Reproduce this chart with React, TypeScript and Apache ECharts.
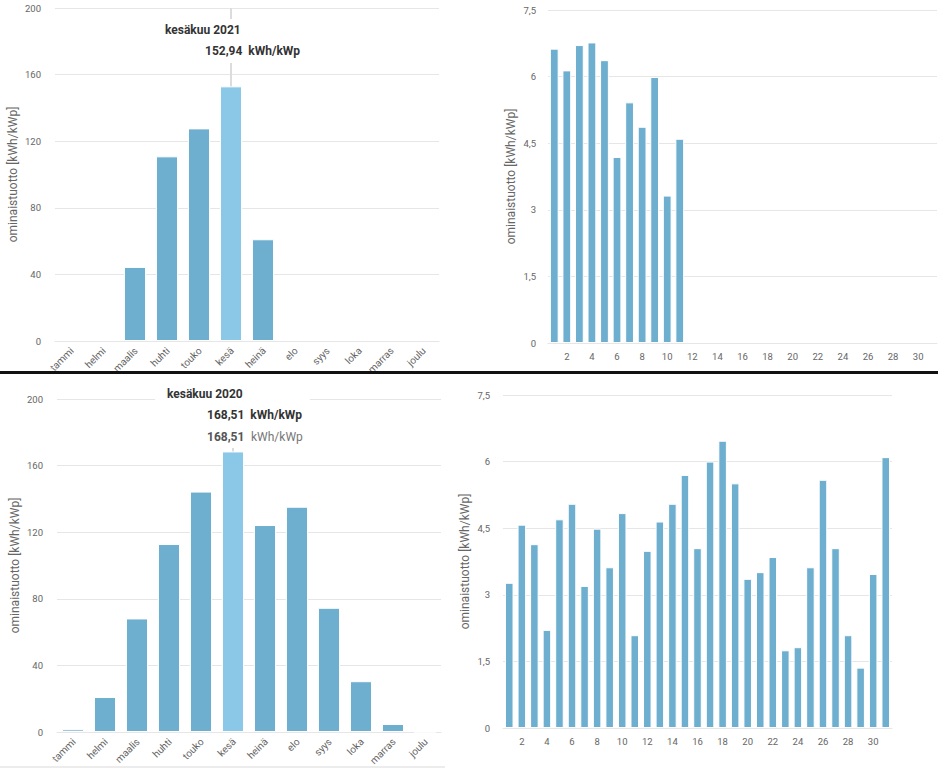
import React, { useEffect, useRef } from 'react';
import * as echarts from 'echarts';

const months = ['tammi', 'helmi', 'maalis', 'huhti', 'touko', 'kesä', 'heinä', 'elo', 'syys', 'loka', 'marras', 'joulu'];
const monthly2021 = [null, null, 44.5, 110.9, 127.7, 152.94, 61.1, null, null, null, null, null];
const monthly2020 = [1.6, 21.0, 68.2, 112.9, 144.4, 168.51, 124.3, 135.3, 74.6, 30.5, 4.8, 0];

const days = ['1', '2', '3', '4', '5', '6', '7', '8', '9', '10', '11', '12', '13', '14', '15', '16', '17', '18', '19', '20', '21', '22', '23', '24', '25', '26', '27', '28', '29', '30', '31'];
const daily2021 = [6.63, 6.14, 6.71, 6.77, 6.37, 4.19, 5.42, 4.87, 5.99, 3.32, 4.6,
  null, null, null, null, null, null, null, null, null, null, null, null, null, null, null, null, null, null, null, null];
const daily2020 = [3.27, 4.58, 4.14, 2.21, 4.7, 5.05, 3.2, 4.49, 3.62, 4.84, 2.09, 3.99, 4.65, 5.05, 5.7, 4.05,
  6.0, 6.47, 5.51, 3.36, 3.51, 3.85, 1.75, 1.82, 3.62, 5.59, 4.05, 2.09, 1.36, 3.47, 6.1];

const monthlyTicks = ['0', '40', '80', '120', '160', '200'];
const dailyTicks = ['0', '1,5', '3', '4,5', '6', '7,5'];

const highlightMonth = 'kesä';
const tooltipTitle2021 = 'kesäkuu 2021';
const tooltipTitle2020 = 'kesäkuu 2020';
const unit = 'kWh/kWp';
const axisTitle = 'ominaistuotto [kWh/kWp]';

const BAR = '#6eaecf';
const BAR_HI = '#8bc7e7';
const GRID = '#e6e6e6';
const LABEL = '#666666';
const FONT = 'Roboto';

const fmt = (v: number) => v.toFixed(2).replace('.', ',');

export default function App() {
  const ref = useRef<HTMLDivElement>(null);

  useEffect(() => {
    document.body.style.margin = '0';
    const chart = echarts.init(ref.current!, null, { renderer: 'svg' });

    const monthAxis = (gridIndex: number) => ({
      type: 'category',
      gridIndex,
      data: months,
      axisLine: { lineStyle: { color: GRID } },
      axisTick: { alignWithLabel: true, interval: 0, length: 7, lineStyle: { color: '#dedede' } },
      axisLabel: { show: false },
    });
    const dayAxis = (gridIndex: number) => ({
      type: 'category',
      gridIndex,
      data: days,
      axisLine: { lineStyle: { color: GRID } },
      axisTick: { alignWithLabel: true, interval: (i: number) => i % 2 === 1, length: 5, lineStyle: { color: '#e2e2e2' } },
      axisLabel: { interval: (i: number) => i % 2 === 1, color: LABEL, fontSize: 9.5, margin: 8, fontFamily: FONT },
    });
    const valueAxis = (gridIndex: number, max: number, interval: number, labels: string[], nameGap: number, margin: number) => ({
      type: 'value',
      gridIndex,
      min: 0,
      max,
      interval,
      name: axisTitle,
      nameLocation: 'middle',
      nameRotate: 90,
      nameGap,
      nameTextStyle: { color: LABEL, fontSize: 12, fontFamily: FONT },
      axisLine: { show: false },
      axisTick: { show: false },
      axisLabel: {
        color: LABEL,
        fontSize: 9.5,
        margin,
        fontFamily: FONT,
        formatter: (v: number) => labels[Math.round(v / interval)],
      },
      splitLine: { lineStyle: { color: GRID, width: 1 } },
    });

    const monthData = (vals: (number | null)[]) =>
      vals.map((v, i) => (months[i] === highlightMonth ? { value: v, itemStyle: { color: BAR_HI } } : v));

    const crosshair = {
      silent: true,
      symbol: 'none',
      z: 1,
      label: { show: false },
      lineStyle: { color: '#dcdcdc', width: 2, type: 'solid' },
      emphasis: { disabled: true },
      data: [{ xAxis: highlightMonth }],
    };

    const barBase = {
      type: 'bar',
      z: 10,
      silent: true,
      itemStyle: { color: BAR, borderColor: '#ffffff', borderWidth: 1 },
    };

    const v2021 = monthly2021[months.indexOf(highlightMonth)] as number;
    const v2020 = monthly2020[months.indexOf(highlightMonth)] as number;

    chart.setOption({
      animation: false,
      textStyle: { fontFamily: FONT },
      tooltip: { show: false },
      grid: [
        { left: 55, top: 8, width: 384, height: 333 },
        { left: 548, top: 10, width: 389, height: 333 },
        { left: 57, top: 399, width: 384, height: 333 },
        { left: 503, top: 395, width: 389, height: 333 },
      ],
      xAxis: [monthAxis(0), dayAxis(1), monthAxis(2), dayAxis(3)],
      yAxis: [
        valueAxis(0, 200, 40, monthlyTicks, 36, 14),
        valueAxis(1, 7.5, 1.5, dailyTicks, 31, 12),
        valueAxis(2, 200, 40, monthlyTicks, 36, 14),
        valueAxis(3, 7.5, 1.5, dailyTicks, 32, 13),
      ],
      series: [
        { ...barBase, xAxisIndex: 0, yAxisIndex: 0, barCategoryGap: '31%', data: monthData(monthly2021), markLine: crosshair },
        { ...barBase, xAxisIndex: 1, yAxisIndex: 1, barCategoryGap: '30%', data: daily2021 },
        { ...barBase, xAxisIndex: 2, yAxisIndex: 2, barCategoryGap: '31%', data: monthData(monthly2020), markLine: crosshair },
        { ...barBase, xAxisIndex: 3, yAxisIndex: 3, barCategoryGap: '32%', data: daily2020 },
      ],
    });

    // rotated month labels, placed at the category axis' own tick positions
    const monthLabels = [0, 2].flatMap((gridIndex) =>
      months.map((m) => {
        const p = chart.convertToPixel({ gridIndex }, [m, 0]) as number[];
        return {
          type: 'text',
          z: 50,
          silent: true,
          x: p[0] + 1,
          y: p[1] + 8,
          rotation: Math.PI / 4,
          style: { text: m, align: 'right', verticalAlign: 'middle', fontFamily: FONT, fontSize: 10, fill: LABEL },
        };
      })
    );

    chart.setOption({
      graphic: [
        { type: 'rect', z: 100, shape: { x: 0, y: 371, width: 938, height: 3 }, style: { fill: '#111111' } },
        { type: 'rect', z: 100, shape: { x: 0, y: 766, width: 445, height: 2 }, style: { fill: '#ececec' } },
        { type: 'rect', z: 100, shape: { x: 155, y: 19, width: 155, height: 44 }, style: { fill: '#ffffff' } },
        {
          type: 'text', z: 101, x: 165, y: 30,
          style: { text: tooltipTitle2021, fontFamily: FONT, fontWeight: 'bold', fontSize: 12, fill: '#333333', verticalAlign: 'middle' },
        },
        {
          type: 'text', z: 101, x: 205, y: 51,
          style: { text: fmt(v2021) + '  ' + unit, fontFamily: FONT, fontWeight: 'bold', fontSize: 12, fill: '#333333', verticalAlign: 'middle' },
        },
        { type: 'rect', z: 100, shape: { x: 155, y: 376, width: 155, height: 72 }, style: { fill: '#ffffff' } },
        {
          type: 'text', z: 101, x: 167, y: 393.5,
          style: { text: tooltipTitle2020, fontFamily: FONT, fontWeight: 'bold', fontSize: 12, fill: '#333333', verticalAlign: 'middle' },
        },
        {
          type: 'text', z: 101, x: 207, y: 414.5,
          style: { text: fmt(v2020) + '  ' + unit, fontFamily: FONT, fontWeight: 'bold', fontSize: 12, fill: '#333333', verticalAlign: 'middle' },
        },
        {
          type: 'text', z: 101, x: 207, y: 436.5,
          style: {
            text: '{b|' + fmt(v2020) + '}  {n|' + unit + '}',
            verticalAlign: 'middle',
            rich: {
              b: { fontFamily: FONT, fontWeight: 'bold', fontSize: 12, fill: '#555555' },
              n: { fontFamily: FONT, fontWeight: 'normal', fontSize: 12, fill: '#777777' },
            },
          },
        },
        ...monthLabels,
      ],
    });

    return () => chart.dispose();
  }, []);

  return <div ref={ref} style={{ width: 938, height: 768 }} />;
}
